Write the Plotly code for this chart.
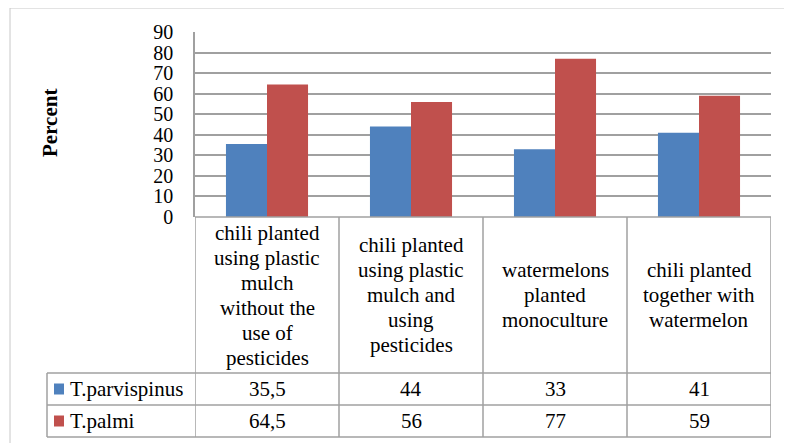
import plotly.graph_objects as go

categories = [
    "chili planted\nusing plastic\nmulch\nwithout the\nuse of\npesticides",
    "chili planted\nusing plastic\nmulch and\nusing\npesticides",
    "watermelons\nplanted\nmonoculture",
    "chili planted\ntogether with\nwatermelon",
]
series_names = ["T.parvispinus", "T.palmi"]
parvispinus = [35.5, 44, 33, 41]
palmi = [64.5, 56, 77, 59]
value_labels = [["35,5", "44", "33", "41"], ["64,5", "56", "77", "59"]]
colors = ["#4f81bd", "#c0504d"]
y_ticks = [0, 10, 20, 30, 40, 50, 60, 70, 80, 90]

OFF = 8  # page body margin: figure starts at (8, 8) in the page
W, H = 792 - OFF, 443 - OFF
# plot area in page px
L, R, T, B = 195, 771, 32, 217
FONT = "Liberation Serif, Times New Roman, serif"
LINE = "#a0a0a0"


def px_x(x):
    return (x - L) / (R - L)


def px_y(y):
    return (B - y) / (B - T)


x_idx = list(range(len(categories)))

fig = go.Figure()
for name, vals, col in zip(series_names, [parvispinus, palmi], colors):
    fig.add_trace(go.Bar(x=x_idx, y=vals, name=name, marker_color=col,
                         marker_line_width=0, showlegend=False))

shapes = []
annotations = []

# table vertical lines (column boundaries on the category axis)
for i in range(len(categories) + 1):
    shapes.append(dict(type="line", xref="x", yref="paper", x0=i - 0.5, x1=i - 0.5,
                       y0=px_y(B), y1=px_y(437), line=dict(color=LINE, width=1.5)))
# table horizontal lines
shapes.append(dict(type="line", xref="paper", yref="paper", x0=0, x1=1,
                   y0=0, y1=0, line=dict(color=LINE, width=1.5)))
for yy in [373, 405, 437]:
    shapes.append(dict(type="line", xref="paper", yref="paper", x0=px_x(47), x1=1,
                       y0=px_y(yy), y1=px_y(yy), line=dict(color=LINE, width=1.5)))
shapes.append(dict(type="line", xref="paper", yref="paper", x0=px_x(47), x1=px_x(47),
                   y0=px_y(373), y1=px_y(437), line=dict(color=LINE, width=1.5)))

# outer chart frame (top and left visible)
shapes.append(dict(type="line", xref="paper", yref="paper", x0=px_x(10), x1=px_x(800),
                   y0=px_y(8), y1=px_y(8), line=dict(color="#c8c8c8", width=1)))
shapes.append(dict(type="line", xref="paper", yref="paper", x0=px_x(10), x1=px_x(10),
                   y0=px_y(8), y1=px_y(460), line=dict(color="#c8c8c8", width=1)))

# category labels (one annotation per line, centered in the category row)
row_center = 295
spacing = 25
for i, cat in enumerate(categories):
    lines = cat.split("\n")
    n = len(lines)
    for j, ln in enumerate(lines):
        yc = row_center + (j - (n - 1) / 2) * spacing
        annotations.append(dict(x=i, xref="x", y=px_y(yc), yref="paper", text=ln,
                                showarrow=False, xanchor="center", yanchor="middle",
                                font=dict(family=FONT, size=21, color="black")))

# series rows: legend keys, names, values
row_centers = [389, 421]
for r, (name, col) in enumerate(zip(series_names, colors)):
    yc = row_centers[r]
    shapes.append(dict(type="rect", xref="paper", yref="paper",
                       x0=px_x(54), x1=px_x(64), y0=px_y(yc - 5.5), y1=px_y(yc + 5.5),
                       fillcolor=col, line=dict(width=0)))
    annotations.append(dict(x=px_x(68), xref="paper", y=px_y(yc), yref="paper", text=name,
                            showarrow=False, xanchor="left", yanchor="middle",
                            font=dict(family=FONT, size=21, color="black")))
    for i, v in enumerate(value_labels[r]):
        annotations.append(dict(x=i, xref="x", y=px_y(yc), yref="paper", text=v,
                                showarrow=False, xanchor="center", yanchor="middle",
                                font=dict(family=FONT, size=21, color="black")))

# axis title
annotations.append(dict(x=px_x(50), xref="paper", y=px_y(123), yref="paper",
                        text="<b>Percent</b>", textangle=-90, showarrow=False,
                        xanchor="center", yanchor="middle",
                        font=dict(family=FONT, size=21, color="black")))

fig.update_layout(
    width=W, height=H,
    margin=dict(l=L - OFF, r=W - (R - OFF), t=T - OFF, b=H - (B - OFF), pad=0),
    paper_bgcolor="white", plot_bgcolor="white",
    barmode="group", bargap=0.43, bargroupgap=0,
    shapes=shapes, annotations=annotations,
    xaxis=dict(type="linear", range=[-0.5, len(categories) - 0.5], showticklabels=False,
               showgrid=False, zeroline=False, showline=False, ticks=""),
    yaxis=dict(range=[0, 90], tickvals=y_ticks, ticktext=[str(t) for t in y_ticks],
               showgrid=True, gridcolor=LINE, gridwidth=1.5, zeroline=False,
               showline=True, linecolor=LINE, linewidth=1.5, ticks="",
               ticklabelstandoff=16,
               tickfont=dict(family=FONT, size=20, color="black")),
    font=dict(family=FONT, size=21, color="black"),
)

fig.write_html("out.html")
